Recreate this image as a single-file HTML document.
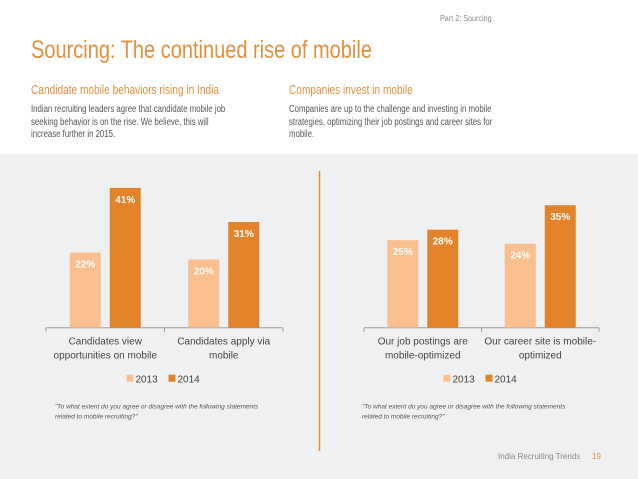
<!DOCTYPE html>
<html><head><meta charset="utf-8"><style>
body{margin:0;width:638px;height:479px;overflow:hidden;background:#fff;font-family:"Liberation Sans",sans-serif;position:relative}
.a{position:absolute;white-space:nowrap;transform-origin:left top}
</style></head><body>
<div class="a" style="left:440px;top:14px;font-size:8px;color:#888;transform:scaleX(0.9)">Part 2: Sourcing</div>
<div class="a" style="left:31px;top:36px;font-size:25px;color:#e0913f;transform:scaleX(0.8)">Sourcing: The continued rise of mobile</div>
<div class="a" style="left:31px;top:83px;font-size:12.5px;color:#e0913f;transform:scaleX(0.81)">Candidate mobile behaviors rising in India</div>
<div class="a" style="left:289px;top:83px;font-size:12.5px;color:#e0913f;transform:scaleX(0.81)">Companies invest in mobile</div>
<div class="a" style="left:31px;top:104px;font-size:10px;line-height:12.5px;color:#555;transform:scaleX(0.78)">Indian recruiting leaders agree that candidate mobile job<br>seeking behavior is on the rise. We believe, this will<br>increase further in 2015.</div>
<div class="a" style="left:289px;top:104px;font-size:10px;line-height:12.5px;color:#555;transform:scaleX(0.78)">Companies are up to the challenge and investing in mobile<br>strategies, optimizing their job postings and career sites for<br>mobile.</div>
<svg id="s" class="a" style="left:0;top:154px" width="638" height="325"></svg>
<script>
const leftCats=[["Candidates view","opportunities on mobile"],["Candidates apply via","mobile"]];
const left2013=[22,20];
const left2014=[41,31];
const rightCats=[["Our job postings are","mobile-optimized"],["Our career site is mobile-","optimized"]];
const right2013=[25,24];
const right2014=[28,35];
const ns="http://www.w3.org/2000/svg";
const s=document.getElementById('s');
function el(t,a,txt){const e=document.createElementNS(ns,t);for(const k in a)e.setAttribute(k,a[k]);if(txt!=null)e.textContent=txt;s.appendChild(e);return e;}
const bg=el('rect',{x:0,y:0,width:638,height:325,fill:'#eff0f1'});


const sep=el('line',{x1:319.5,y1:17,x2:319.5,y2:297,stroke:'#e0913f','stroke-width':1.5});


const base=173.7;
function chart(x0,x1,cats,v13,v14,scale,id,qx){
  const y=v=>base-v*scale;
  const ax=el('line',{x1:x0,y1:base,x2:x1,y2:base,stroke:'#999'});
  
  
  const gw=(x1-x0)/cats.length;
  for(let i=0;i<=cats.length;i++){const t=el('line',{x1:x0+i*gw,y1:base,x2:x0+i*gw,y2:base+4,stroke:'#999'});}
  cats.forEach((c,i)=>{
    const cx=x0+gw*(i+0.5);
    [[v13[i],'#f9bf8f',-35.5,'2013'],[v14[i],'#e2832a',4.5,'2014']].forEach(([v,col,off,yr])=>{
      const r=el('rect',{x:cx+off,y:y(v),width:31,height:base-y(v),fill:col});
      
      
      const t=el('text',{x:cx+off+15.5,y:y(v)+15,'text-anchor':'middle','font-size':10,'font-weight':'bold',fill:'#fff'},v+'%');
      
      
    });
    c.forEach((ln,j)=>{const t=el('text',{x:cx,y:base+17+j*14,'text-anchor':'middle','font-size':10,fill:'#444'},ln);});
  });
  const lx=(x0+x1)/2-38;
  const l1=el('rect',{x:lx,y:base+47,width:7,height:7,fill:'#f9bf8f'});
  
  
  const lt1=el('text',{x:lx+9,y:base+55,'font-size':10,fill:'#444'},'2013');
  
  
  const l2=el('rect',{x:lx+42,y:base+47,width:7,height:7,fill:'#e2832a'});
  
  
  const lt2=el('text',{x:lx+51,y:base+55,'font-size':10,fill:'#444'},'2014');
  
  
  ['"To what extent do you agree or disagree with the following statements','related to mobile recruiting?"'].forEach((ln,j)=>{
    const q=el('text',{x:qx,y:base+81+j*10,'font-size':6.5,'font-style':'italic',fill:'#555'},ln);
    
    
  });
}
chart(46,283,leftCats,left2013,left2014,3.41,'left-chart',55);
chart(364,599,rightCats,right2013,right2014,3.5,'right-chart',362);
const f=el('text',{x:498,y:305,'font-size':8,fill:'#888'},'India Recruiting Trends');


const p=el('text',{x:592,y:305,'font-size':8,fill:'#e0913f'},'19');


</script>
</body></html>
